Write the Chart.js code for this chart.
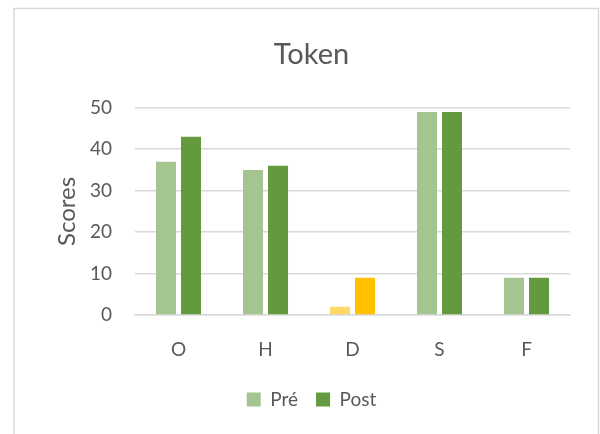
<!DOCTYPE html>
<html><head><meta charset="utf-8">
<script src="https://cdn.jsdelivr.net/npm/chart.js@4/dist/chart.umd.min.js"></script>
<style>html,body{margin:0;padding:0;background:#fff;}#wrap{width:600px;height:434px;position:relative;}</style>
</head><body><div id="wrap"><canvas id="c" width="600" height="434"></canvas></div>
<script>
const categories = ["O", "H", "D", "S", "F"];
const preValues = [37, 35, 2, 49, 9];
const postValues = [43, 36, 9, 49, 9];
const yTicks = [0, 10, 20, 30, 40, 50];
const seriesNames = ["Pré", "Post"];

const preColors = ["#A4C590", "#A4C590", "#FFD966", "#A4C590", "#A4C590"];
const postColors = ["#649A3F", "#649A3F", "#FFC000", "#649A3F", "#649A3F"];

const frame = {
  id: 'frame',
  beforeDraw(chart) {
    const ctx = chart.ctx;
    ctx.save();
    ctx.fillStyle = '#fff';
    ctx.fillRect(0, 0, chart.width, chart.height);
    ctx.strokeStyle = '#d9d9d9';
    ctx.lineWidth = 1.5;
    ctx.strokeRect(14, 8.5, 584.5, 440);
    ctx.restore();
  }
};

const font = "Lato, 'Open Sans', sans-serif";
new Chart(document.getElementById('c'), {
  type: 'bar',
  data: {
    labels: categories,
    datasets: [
      { label: seriesNames[0], data: preValues, backgroundColor: preColors, categoryPercentage: 0.575, barPercentage: 0.8 },
      { label: seriesNames[1], data: postValues, backgroundColor: postColors, categoryPercentage: 0.575, barPercentage: 0.8 }
    ]
  },
  options: {
    responsive: false,
    animation: false,
    layout: { padding: { left: 53, right: 30, top: 37, bottom: 15 } },
    plugins: {
      title: { display: true, text: 'Token', color: '#595959', font: { family: font, size: 29, weight: 'normal' }, padding: { top: 0, bottom: 36 } },
      legend: {
        position: 'bottom',
        labels: {
          color: '#595959', font: { family: font, size: 19 }, boxWidth: 14, boxHeight: 14, padding: 18,
          generateLabels(chart) {
            return [
              { text: seriesNames[0], fillStyle: '#A4C590', strokeStyle: '#A4C590', lineWidth: 0, fontColor: '#595959', datasetIndex: 0 },
              { text: seriesNames[1], fillStyle: '#649A3F', strokeStyle: '#649A3F', lineWidth: 0, fontColor: '#595959', datasetIndex: 1 }
            ];
          }
        }
      },
      tooltip: { enabled: false }
    },
    scales: {
      x: {
        grid: { display: false },
        border: { color: '#d9d9d9', width: 1.5 },
        ticks: { color: '#595959', font: { family: font, size: 19 }, padding: 15 },
        afterFit(s) { s.height = 57; }
      },
      y: {
        min: 0, max: 50,
        afterBuildTicks(s) { s.ticks = yTicks.map(v => ({ value: v })); },
        grid: { color: '#d9d9d9', lineWidth: 1.5, drawTicks: false },
        border: { display: false },
        ticks: { color: '#595959', font: { family: font, size: 19 }, padding: 23 },
        title: { display: true, text: 'Scores', color: '#595959', font: { family: font, size: 24 }, padding: 0 },
        afterFit(s) { s.width = 82; }
      }
    }
  },
  plugins: [frame]
});
</script></body></html>
